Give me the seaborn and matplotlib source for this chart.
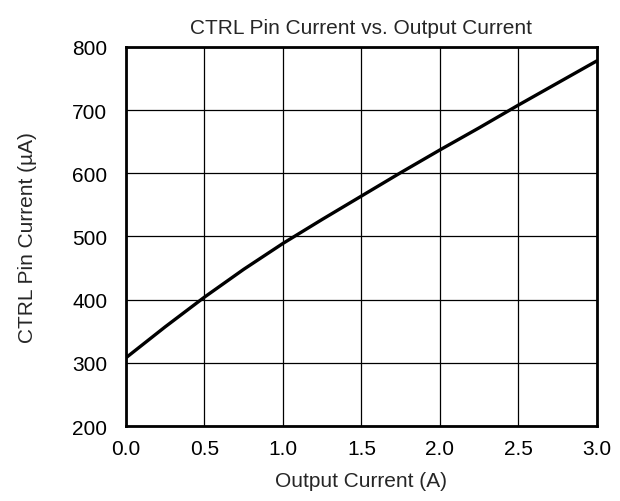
import matplotlib
matplotlib.use("Agg")
import matplotlib.pyplot as plt
import seaborn as sns
import pandas as pd

output_current = [0.0, 0.25, 0.5, 0.75, 1.0, 1.25, 1.5, 1.75, 2.0, 2.25, 2.5, 2.75, 3.0]
ctrl_current = [308, 357, 404, 448, 489, 527, 564, 601, 637, 672, 708, 743, 778]
x_ticks = [0.0, 0.5, 1.0, 1.5, 2.0, 2.5, 3.0]
y_ticks = [200, 300, 400, 500, 600, 700, 800]

sns.set_style("white")
plt.rcParams['font.family'] = ['Liberation Sans', 'DejaVu Sans']

df = pd.DataFrame({"x": output_current, "y": ctrl_current})

fig = plt.figure(figsize=(6.2, 5.02), dpi=100)
ax = fig.add_axes([0.2032, 0.1494, 0.7597, 0.7552])
sns.lineplot(data=df, x="x", y="y", ax=ax, color="black", linewidth=2.4)

ax.set_xlim(0, 3)
ax.set_ylim(200, 800)
ax.set_xticks(x_ticks)
ax.set_xticklabels([f"{v:.1f}" for v in x_ticks])
ax.set_yticks(y_ticks)
ax.grid(True, color="black", linewidth=0.9)
ax.tick_params(length=0, labelsize=15, colors="black")
ax.tick_params(axis="y", pad=13.5)
ax.tick_params(axis="x", pad=9)
for s in ax.spines.values():
    s.set_color("black")
    s.set_linewidth(2)
ax.set_xlabel("Output Current (A)", fontsize=15, labelpad=10)
ax.set_ylabel("CTRL Pin Current (µA)", fontsize=15, labelpad=25)
ax.set_title("CTRL Pin Current vs. Output Current", fontsize=15, pad=10)

fig.savefig("out.png", dpi=100)
